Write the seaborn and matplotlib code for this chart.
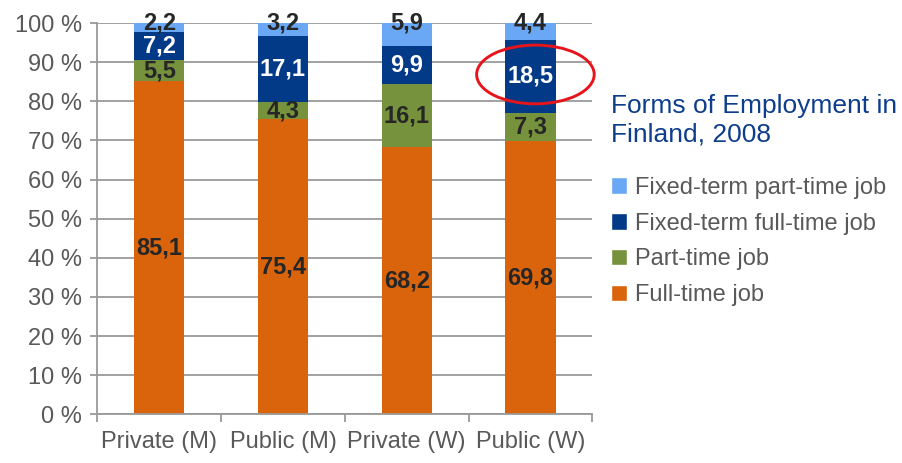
import matplotlib
matplotlib.use("Agg")
import matplotlib.pyplot as plt
import numpy as np
import pandas as pd
import seaborn as sns
from matplotlib.patches import Ellipse, Patch

# Data (percent of employees)
categories = ["Private (M)", "Public (M)", "Private (W)", "Public (W)"]
full_time = [85.1, 75.4, 68.2, 69.8]
part_time = [5.5, 4.3, 16.1, 7.3]
fixed_full = [7.2, 17.1, 9.9, 18.5]
fixed_part = [2.2, 3.2, 5.9, 4.4]

series = ["Full-time job", "Part-time job",
          "Fixed-term full-time job", "Fixed-term part-time job"]
colors = ["#DA640C", "#76923C", "#023A87", "#6AA8F5"]
label_colors = ["#262626", "#262626", "white", "#262626"]
gray = "#9A9A9A"
text_gray = "#595959"

sns.set_theme(style="white")
plt.rcParams["font.family"] = ["Liberation Sans", "DejaVu Sans"]

fig = plt.figure(figsize=(9.02, 4.63), dpi=100)
ax = fig.add_axes([0.1079, 0.1052, 0.5488, 0.8451])
ax.set_axisbelow(True)

values = [full_time, part_time, fixed_full, fixed_part]
cum = np.cumsum(np.array(values), axis=0)
df = pd.DataFrame({"category": categories})

# stacked bars: draw the full stack first, then overlay the lower parts
for i in reversed(range(4)):
    df["top"] = cum[i]
    sns.barplot(data=df, x="category", y="top", color=colors[i],
                saturation=1, width=0.405, linewidth=0, ax=ax, zorder=2)

# value labels with decimal comma
for i in range(4):
    for j in range(4):
        v = values[i][j]
        y = 100 if i == 3 else cum[i][j] - v / 2
        ax.text(j, y, f"{v:.1f}".replace(".", ","), ha="center", va="center",
                fontsize=17, fontweight="bold", color=label_colors[i], zorder=4)

# red highlight around Public (W) fixed-term full-time share
cy = cum[2][3] - fixed_full[3] / 2
ax.add_patch(Ellipse((3.04, cy + 0.5), 0.95, 15, fill=False,
                     edgecolor="#E8141B", linewidth=2.1, zorder=5, clip_on=False))

ax.set_ylim(0, 100)
ax.set_xlim(-0.5, 3.5)
ticks = list(range(0, 101, 10))
ax.set_yticks(ticks)
ax.set_yticklabels([f"{t} %" for t in ticks])
ax.yaxis.grid(True, color=gray, linewidth=1.3)
ax.set_xticks([-0.5, 0.5, 1.5, 2.5, 3.5], minor=True)
ax.tick_params(axis="x", which="major", bottom=True, length=0, pad=12,
               labelsize=17, labelcolor=text_gray)
ax.tick_params(axis="x", which="minor", bottom=True, length=6, width=1.3,
               color=gray, direction="out")
ax.tick_params(axis="y", left=True, length=5, width=1.3, color=gray,
               direction="out", labelsize=17, labelcolor=text_gray, pad=6)
for s in ["top", "right"]:
    ax.spines[s].set_visible(False)
for s in ["left", "bottom"]:
    ax.spines[s].set_color(gray)
    ax.spines[s].set_linewidth(1.3)
ax.set_xlabel("")
ax.set_ylabel("")

fig.text(0.677, 1 - 94 / 463, "Forms of Employment in\nFinland, 2008",
         fontsize=19, color="#0E3D8C", ha="left", va="top", linespacing=1.25)

handles = [Patch(facecolor=c) for c in colors][::-1]
fig.legend(handles, series[::-1], loc="upper left",
           bbox_to_anchor=(0.677, 1 - 177 / 463), frameon=False, fontsize=17,
           labelcolor=text_gray, handlelength=0.7, handleheight=0.7,
           handletextpad=0.35, labelspacing=0.58, borderaxespad=0, borderpad=0)

fig.savefig("out.png", dpi=100)
